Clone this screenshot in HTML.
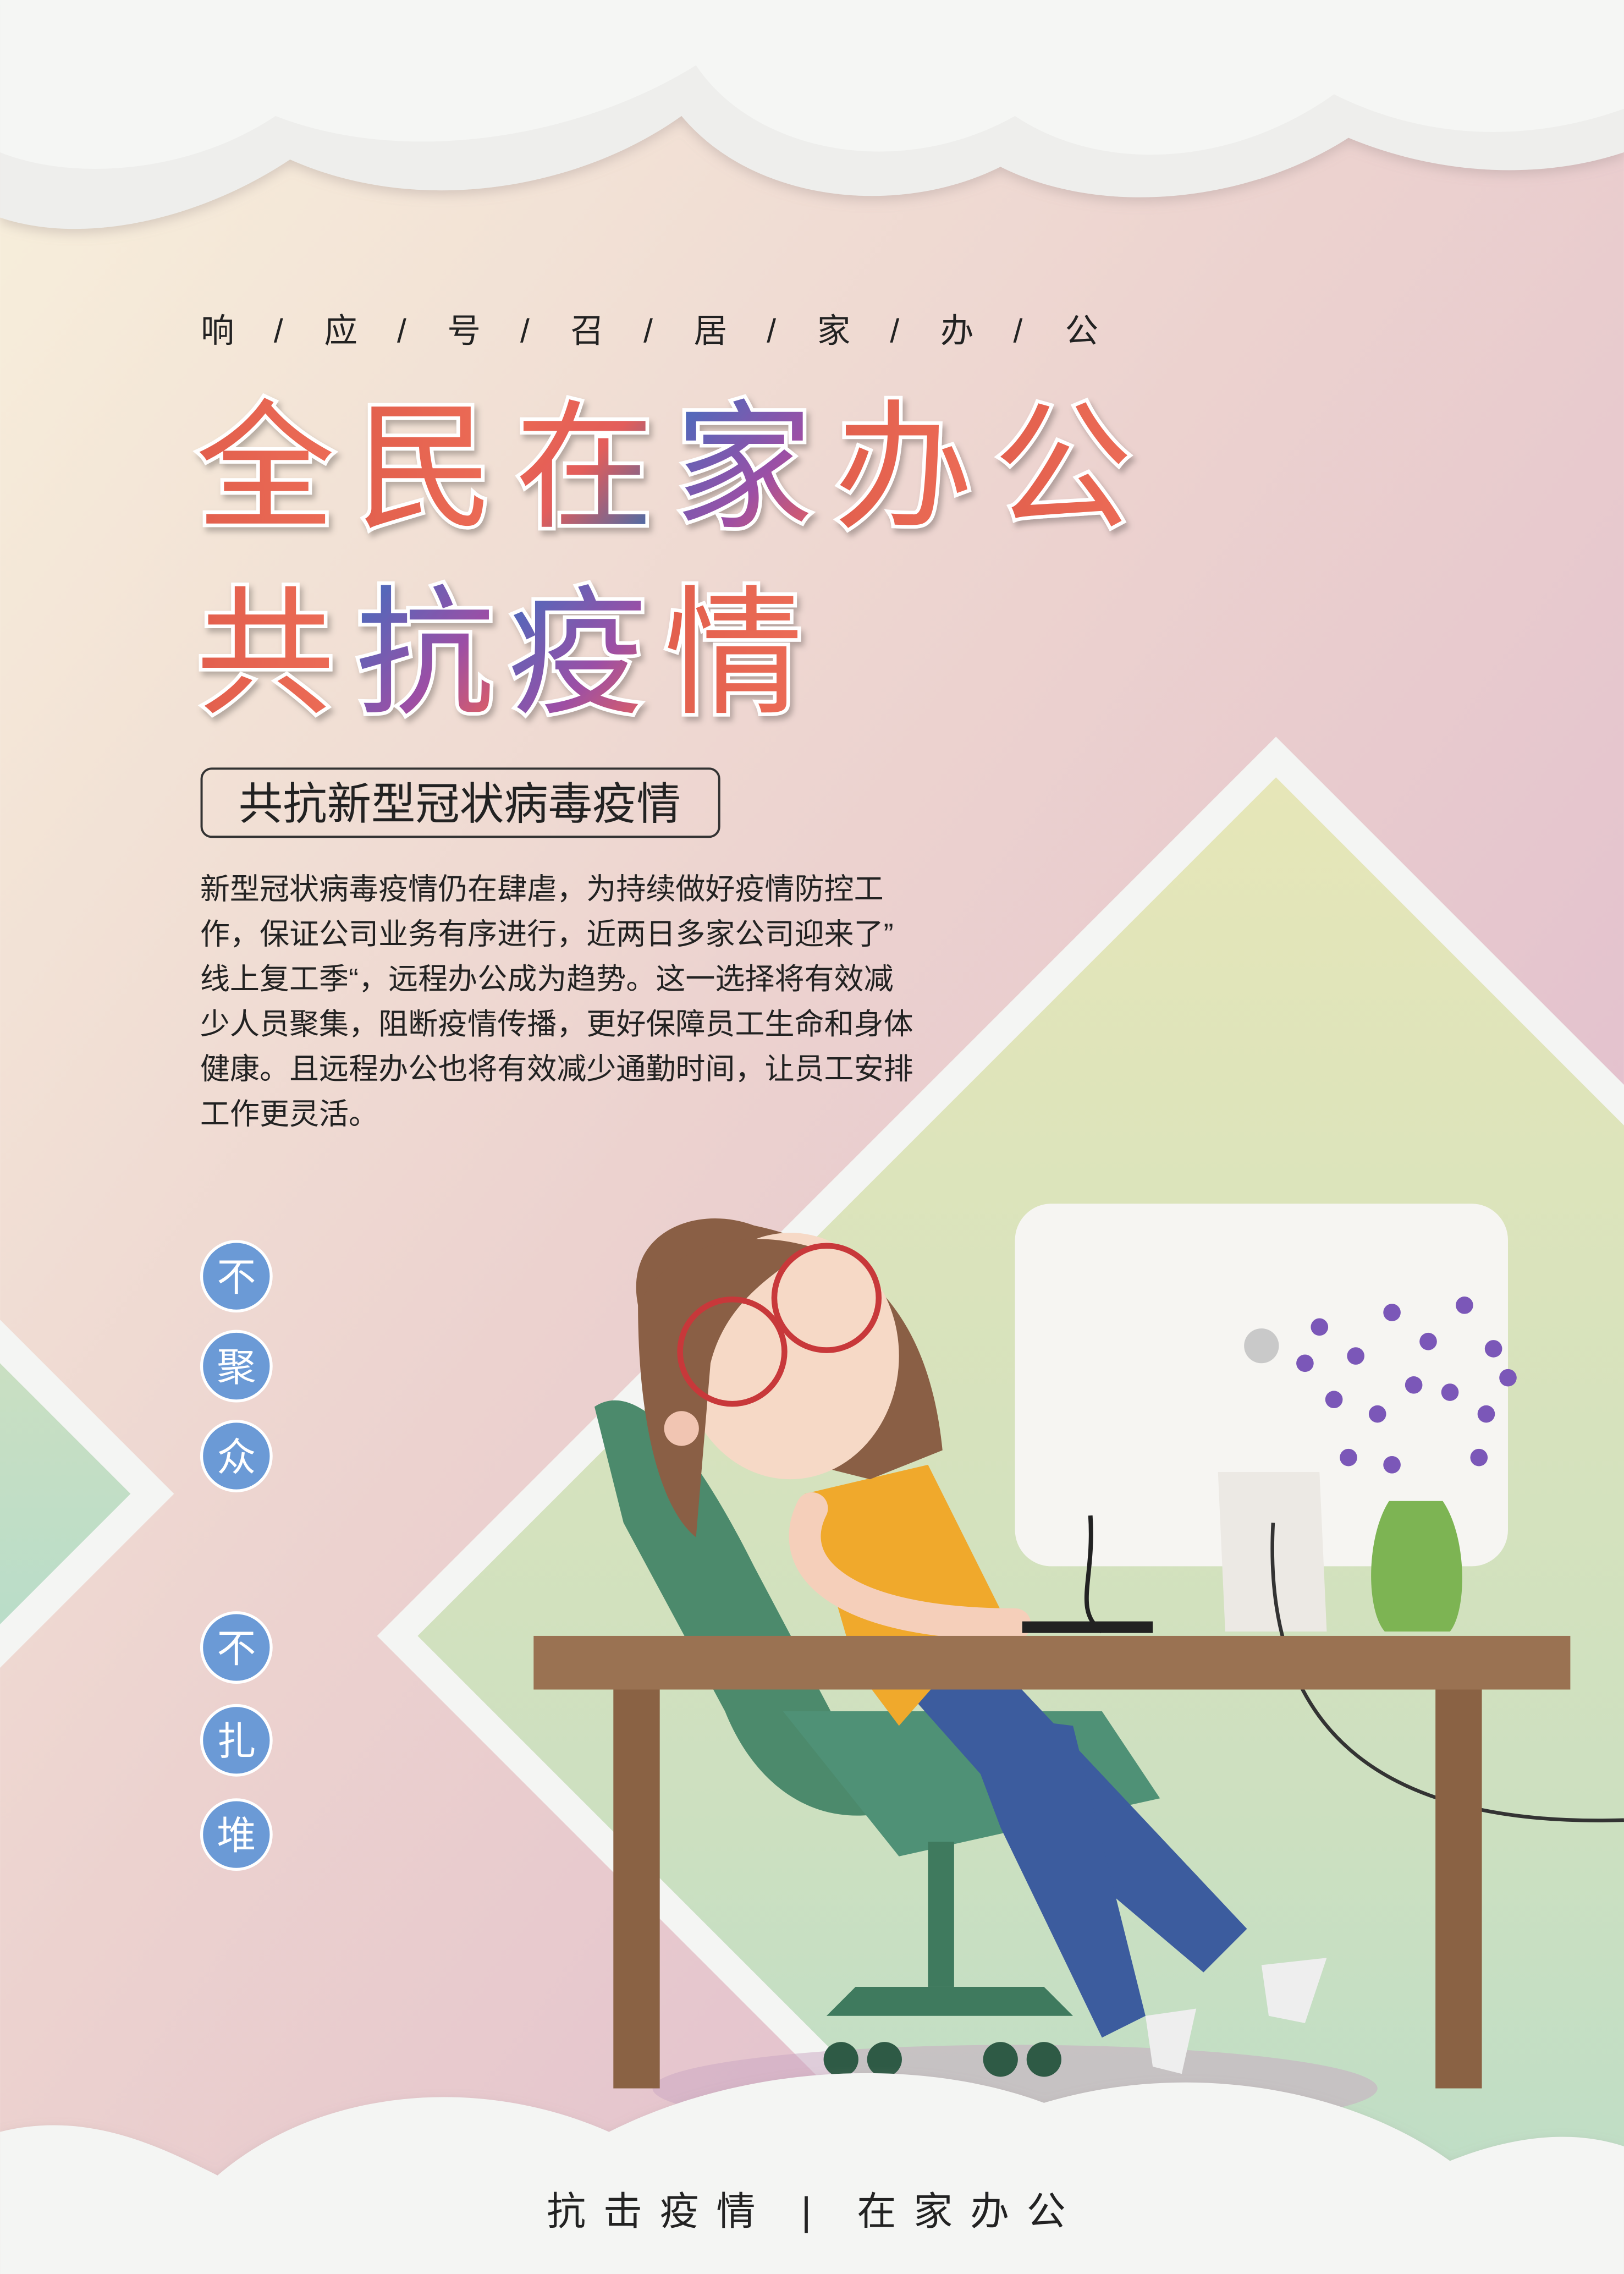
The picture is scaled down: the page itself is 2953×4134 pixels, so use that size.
<!DOCTYPE html>
<html><head><meta charset="utf-8">
<style>
html,body{margin:0;padding:0;width:2953px;height:4134px;overflow:hidden;}
svg{display:block;}
text{font-family:"Liberation Sans","Noto Sans CJK SC",sans-serif;}
</style></head>
<body>
<svg width="2953" height="4134" viewBox="0 0 1120 1568" xmlns="http://www.w3.org/2000/svg">
<defs>
<linearGradient id="bg" x1="0" y1="0" x2="1" y2="1">
<stop offset="0" stop-color="#f8f1dc"/><stop offset="0.45" stop-color="#ecd2cf"/><stop offset="1" stop-color="#dcb4cc"/>
</linearGradient>
<linearGradient id="dia" x1="0" y1="0" x2="0" y2="1">
<stop offset="0" stop-color="#e6e6b8"/><stop offset="0.6" stop-color="#cde0c0"/><stop offset="1" stop-color="#b3dccb"/>
</linearGradient>
<linearGradient id="ldia" x1="0" y1="0" x2="0" y2="1">
<stop offset="0" stop-color="#cfe0c0"/><stop offset="1" stop-color="#b4dccb"/>
</linearGradient>
<linearGradient id="t1" x1="0" y1="0" x2="1" y2="1">
<stop offset="0" stop-color="#ec6a4f"/><stop offset="0.5" stop-color="#e35d5b"/><stop offset="1" stop-color="#2f6fb5"/>
</linearGradient>
<linearGradient id="t2" x1="0" y1="0" x2="1" y2="1">
<stop offset="0" stop-color="#3f6fc0"/><stop offset="0.6" stop-color="#9b4fa6"/><stop offset="1" stop-color="#e8605a"/>
</linearGradient>
<linearGradient id="t3" x1="0" y1="0" x2="1" y2="0">
<stop offset="0" stop-color="#e2604e"/><stop offset="1" stop-color="#ec6b55"/>
</linearGradient>
<filter id="sh" x="-10%" y="-10%" width="130%" height="130%"><feDropShadow dx="2" dy="3" stdDeviation="2" flood-color="#000" flood-opacity="0.25"/></filter>
<filter id="csh" x="-10%" y="-30%" width="120%" height="160%"><feDropShadow dx="0" dy="3" stdDeviation="4" flood-color="#9a8a8a" flood-opacity="0.35"/></filter>
</defs>

<rect width="1120" height="1568" fill="url(#bg)"/>

<polygon points="-60,850 120,1030 -60,1210" fill="#f4f5f3"/>
<polygon points="-60,880 90,1030 -60,1180" fill="url(#ldia)"/>
<polygon points="880,508 1500,1128 880,1748 260,1128" fill="#f4f5f3"/>
<polygon points="880,536 1472,1128 880,1720 288,1128" fill="url(#dia)"/>

<g filter="url(#csh)">
<path d="M0,0 L1120,0 L1120,105 C1060,125 990,120 930,95 C860,140 760,150 690,115 C620,150 520,140 470,80 C400,130 290,150 200,110 C140,150 60,170 0,150 Z" fill="#eeeeec"/>
<path d="M0,0 L1120,0 L1120,75 C1050,100 980,95 920,65 C850,115 760,120 700,80 C620,125 520,105 480,45 C400,95 280,115 190,80 C130,120 50,125 0,105 Z" fill="#f5f6f4"/>
</g>

<text y="236" font-size="23" fill="#222" text-anchor="middle">
<tspan x="150">响</tspan><tspan x="192">/</tspan><tspan x="235">应</tspan><tspan x="277">/</tspan><tspan x="320">号</tspan><tspan x="362">/</tspan><tspan x="405">召</tspan><tspan x="447">/</tspan><tspan x="490">居</tspan><tspan x="532">/</tspan><tspan x="575">家</tspan><tspan x="617">/</tspan><tspan x="660">办</tspan><tspan x="702">/</tspan><tspan x="746">公</tspan>
</text>

<g font-size="96" stroke="#fff" stroke-width="5" paint-order="stroke" filter="url(#sh)">
<text x="135" y="356" fill="url(#t3)">全</text>
<text x="245" y="356" fill="url(#t3)">民</text>
<text x="355" y="356" fill="url(#t1)">在</text>
<text x="465" y="356" fill="url(#t2)">家</text>
<text x="575" y="356" fill="url(#t3)">办</text>
<text x="685" y="356" fill="url(#t3)">公</text>
<text x="135" y="484" fill="url(#t3)">共</text>
<text x="245" y="484" fill="url(#t2)">抗</text>
<text x="350" y="484" fill="url(#t2)">疫</text>
<text x="458" y="484" fill="url(#t3)">情</text>
</g>

<rect x="139" y="530" width="357" height="47" rx="7" fill="none" stroke="#333" stroke-width="1.5"/>
<text x="317" y="565" font-size="30.5" fill="#222" text-anchor="middle">共抗新型冠状病毒疫情</text>

<g font-size="20.5" fill="#222">
<text x="138" y="620">新型冠状病毒疫情仍在肆虐，为持续做好疫情防控工</text>
<text x="138" y="651">作，保证公司业务有序进行，近两日多家公司迎来了”</text>
<text x="138" y="682">线上复工季“，远程办公成为趋势。这一选择将有效减</text>
<text x="138" y="713">少人员聚集，阻断疫情传播，更好保障员工生命和身体</text>
<text x="138" y="744">健康。且远程办公也将有效减少通勤时间，让员工安排</text>
<text x="138" y="775">工作更灵活。</text>
</g>

<g font-size="27" fill="#fff" text-anchor="middle">
<circle cx="163" cy="880" r="24" fill="#6b9ad6" stroke="#fff" stroke-width="2"/><text x="163" y="890">不</text>
<circle cx="163" cy="942" r="24" fill="#6b9ad6" stroke="#fff" stroke-width="2"/><text x="163" y="952">聚</text>
<circle cx="163" cy="1004" r="24" fill="#6b9ad6" stroke="#fff" stroke-width="2"/><text x="163" y="1014">众</text>
<circle cx="163" cy="1136" r="24" fill="#6b9ad6" stroke="#fff" stroke-width="2"/><text x="163" y="1146">不</text>
<circle cx="163" cy="1200" r="24" fill="#6b9ad6" stroke="#fff" stroke-width="2"/><text x="163" y="1210">扎</text>
<circle cx="163" cy="1265" r="24" fill="#6b9ad6" stroke="#fff" stroke-width="2"/><text x="163" y="1275">堆</text>
</g>

<g>
<ellipse cx="700" cy="1440" rx="250" ry="30" fill="#c9a6c2" opacity="0.5"/>
<path d="M410,970 C440,950 480,1000 520,1080 L610,1250 C560,1260 520,1230 500,1180 L430,1050 Z" fill="#4c8a6c"/>
<path d="M540,1180 L760,1180 L800,1240 L620,1280 Z" fill="#4f9176"/>
<rect x="640" y="1270" width="18" height="100" fill="#3f7a5e"/>
<path d="M570,1390 L740,1390 L720,1370 L590,1370 Z" fill="#3f7a5e"/>
<circle cx="580" cy="1420" r="12" fill="#2e5a45"/><circle cx="610" cy="1420" r="12" fill="#2e5a45"/>
<circle cx="690" cy="1420" r="12" fill="#2e5a45"/><circle cx="720" cy="1420" r="12" fill="#2e5a45"/>
<rect x="700" y="830" width="340" height="250" rx="25" fill="#f6f5f2"/>
<path d="M840,1015 L910,1015 L915,1125 L845,1125 Z" fill="#ece9e4"/>
<circle cx="870" cy="928" r="12" fill="#c9c9c9"/>
<path d="M752,1045 C755,1090 740,1110 760,1125" stroke="#222" stroke-width="3" fill="none"/>
<path d="M878,1050 C870,1200 960,1260 1120,1255" stroke="#333" stroke-width="2.5" fill="none"/>
<path d="M958,1035 L995,1035 C1012,1060 1012,1110 1000,1125 L955,1125 C942,1110 942,1060 958,1035 Z" fill="#7db453"/>
<g fill="#7b57b8">
<circle cx="910" cy="915" r="6"/><circle cx="935" cy="935" r="6"/><circle cx="960" cy="905" r="6"/><circle cx="985" cy="925" r="6"/><circle cx="1010" cy="900" r="6"/><circle cx="1030" cy="930" r="6"/>
<circle cx="920" cy="965" r="6"/><circle cx="950" cy="975" r="6"/><circle cx="975" cy="955" r="6"/><circle cx="1000" cy="960" r="6"/><circle cx="1025" cy="975" r="6"/><circle cx="1040" cy="950" r="6"/>
<circle cx="930" cy="1005" r="6"/><circle cx="960" cy="1010" r="6"/><circle cx="1020" cy="1005" r="6"/><circle cx="900" cy="940" r="6"/>
</g>
<path d="M620,1160 L700,1160 L860,1330 L830,1360 L700,1250 Z" fill="#3c5c9e"/>
<path d="M660,1180 L740,1190 L790,1390 L760,1405 L690,1260 Z" fill="#3c5c9e"/>
<path d="M555,1030 L640,1010 L690,1110 L620,1190 L590,1150 Z" fill="#f0a92c"/>
<path d="M560,1040 C540,1080 580,1120 700,1120" stroke="#f5cfba" stroke-width="22" fill="none" stroke-linecap="round"/>
<rect x="368" y="1128" width="715" height="37" fill="#9a7252"/>
<rect x="423" y="1165" width="32" height="275" fill="#8a6244"/>
<rect x="990" y="1165" width="32" height="275" fill="#8a6244"/>
<rect x="705" y="1118" width="90" height="8" fill="#222"/>
<path d="M440,900 C430,850 480,830 520,845 C590,860 640,900 650,1000 L600,1020 L520,1000 Z" fill="#8a5f45"/>
<ellipse cx="545" cy="935" rx="75" ry="85" fill="#f6d9c6"/>
<path d="M440,900 C460,860 510,845 560,860 C530,880 500,900 490,940 L480,1060 C455,1040 440,980 440,900 Z" fill="#8a5f45"/>
<circle cx="505" cy="932" r="36" fill="none" stroke="#c8383a" stroke-width="4"/>
<circle cx="570" cy="895" r="36" fill="none" stroke="#c8383a" stroke-width="4"/>
<circle cx="470" cy="985" r="12" fill="#f1c5b2"/>
<path d="M790,1390 L825,1385 L815,1430 L795,1425 Z" fill="#eeeeee"/>
<path d="M870,1355 L915,1350 L900,1395 L875,1390 Z" fill="#eeeeee"/>
</g>

<g filter="url(#csh)">
<path d="M0,1568 L0,1470 C60,1455 110,1480 150,1500 C220,1440 330,1430 420,1470 C520,1420 640,1420 720,1450 C820,1420 930,1440 1000,1490 C1050,1470 1090,1470 1120,1480 L1120,1568 Z" fill="#f4f5f3"/>
</g>
<text x="562" y="1534" font-size="27" fill="#222" text-anchor="middle" letter-spacing="12">抗击疫情 | 在家办公</text>
</svg>
</body></html>
